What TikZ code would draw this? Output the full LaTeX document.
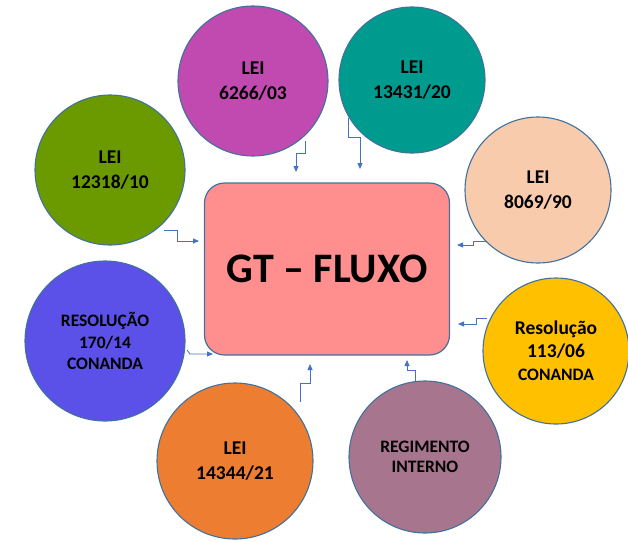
\documentclass[tikz,border=0pt]{standalone}
\usepackage{fontspec}
\setmainfont{Carlito}
\usetikzlibrary{arrows.meta}
\definecolor{edgeblue}{HTML}{41719C}
\definecolor{arrblue}{HTML}{4472C4}
\definecolor{cmag}{HTML}{C04AB0}
\definecolor{cteal}{HTML}{009B8F}
\definecolor{cgreen}{HTML}{6A9A00}
\definecolor{cpeach}{HTML}{F8CBAD}
\definecolor{cblue}{HTML}{5B50E8}
\definecolor{cgold}{HTML}{FFC000}
\definecolor{corange}{HTML}{ED7D31}
\definecolor{cmauve}{HTML}{A8758F}
\definecolor{cpink}{HTML}{FF8F8F}
\tikzset{
  circ/.style={circle, draw=edgeblue, line width=1.1pt, minimum size=#1, inner sep=0pt,
    align=center, font=\bfseries\fontsize{19.5}{24.5}\selectfont},
  smalltxt/.style={font=\bfseries\fontsize{17.5}{21.5}\selectfont},
  conn/.style={draw=arrblue, line width=0.8pt, -{Triangle[length=6pt,width=5pt]}},
}
\begin{document}
\begin{tikzpicture}[x=1pt,y=-1pt]
\useasboundingbox (0,0) rectangle (628,541);
\node[draw=edgeblue, line width=1.2pt, fill=cpink, rounded corners=20pt,
  minimum width=245pt, minimum height=172pt, font=\bfseries\fontsize{42}{48}\selectfont]
  (gt) at (327,269) {GT – FLUXO};
\node[circ=150pt, fill=cmag] (c1) at (253,81) {LEI\\6266/03};
\node[circ=146pt, fill=cteal] (c2) at (412,80) {LEI\\13431/20};
\node[circ=150pt, fill=cgreen] (c3) at (110,170) {LEI\\12318/10};
\node[circ=146pt, fill=cpeach] (c4) at (538,190) {LEI\\8069/90};
\node[circ=160pt, fill=cblue, smalltxt] (c5) at (105,341) {RESOLUÇÃO\\170/14\\CONANDA};
\node[circ=146pt, fill=cgold, font=\bfseries\fontsize{19.5}{23}\selectfont] (c6) at (556,351)
  {Resolução\\113/06\\{\fontsize{17.5}{23}\selectfont CONANDA}};
\node[circ=156pt, fill=corange] (c7) at (235,461) {LEI\\14344/21};
\node[circ=152pt, fill=cmauve, font=\bfseries\fontsize{17.5}{20.5}\selectfont] (c8) at (425,457) {REGIMENTO\\INTERNO};
% connectors
\coordinate (a1) at (305,141);
\draw[conn] (a1) -- (305,153) -- (296,153) -- (296,172);
\coordinate (a2) at (348,118);
\draw[conn] (a2) -- (348,137) -- (360,137) -- (360,169);
\coordinate (a3) at (164,230);
\draw[conn] (a3) -- (177,230) -- (177,241) -- (199,241);
\coordinate (a4) at (486,241);
\draw[conn] (a4) -- (473,241) -- (473,245) -- (457,245);
\coordinate (a5) at (487,318);
\draw[conn] (a5) -- (476,318) -- (476,324) -- (458,324);
\coordinate (a6) at (187,350);
\draw[conn] (a6) -- (190,354) -- (213,354);
\coordinate (a7) at (300,402);
\draw[conn] (a7) -- (300,383) -- (310,383) -- (310,364);
\coordinate (a8) at (415,381);
\draw[conn] (a8) -- (415,370) -- (407,370) -- (407,360);
\end{tikzpicture}
\end{document}
